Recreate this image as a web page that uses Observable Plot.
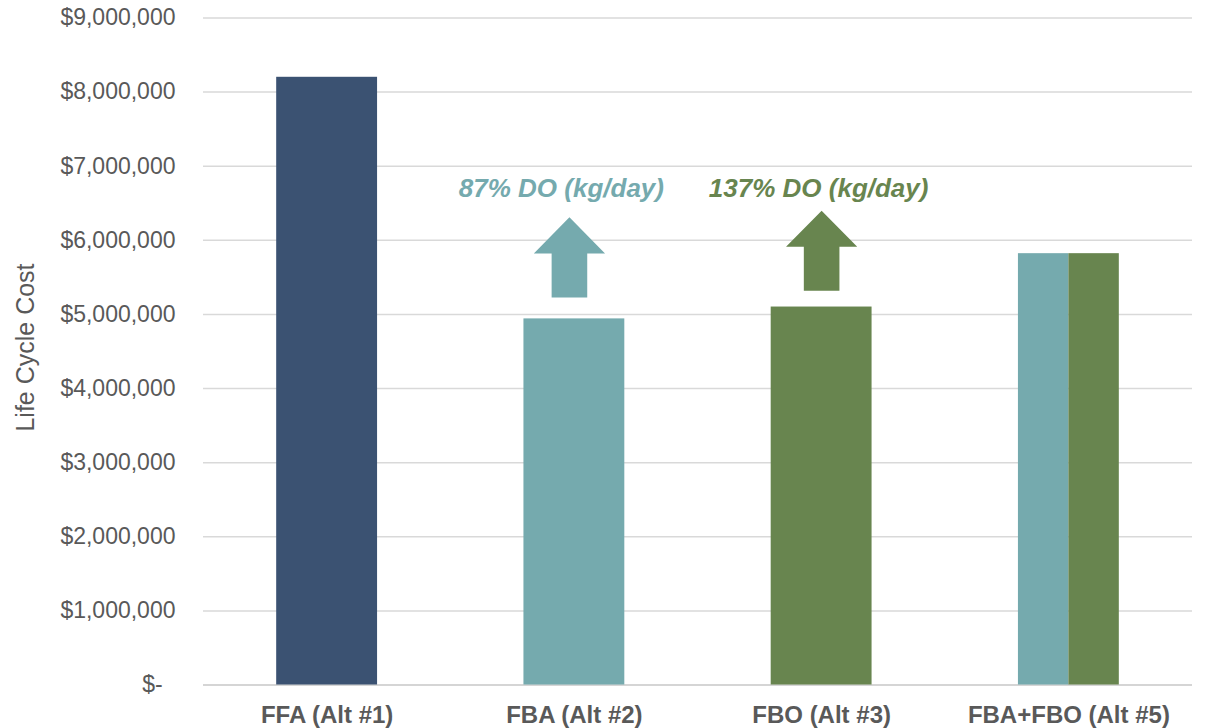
<!DOCTYPE html>
<html>
<head>
<meta charset="utf-8">
<script src="https://cdn.jsdelivr.net/npm/d3@7"></script>
<script src="https://cdn.jsdelivr.net/npm/@observablehq/plot@0.6"></script>
<style>
  html, body { margin: 0; padding: 0; background: #ffffff; }
  #chart svg { display: block; font-family: "Liberation Sans", Arial, sans-serif; }
  g[aria-label="x-axis tick label"] text { font-weight: bold; }
</style>
</head>
<body>
<div id="chart"></div>
<script>
// Life cycle cost per treatment alternative
const categories = ["FFA (Alt #1)", "FBA (Alt #2)", "FBO (Alt #3)", "FBA+FBO (Alt #5)"];
const costs = [8200000, 4940000, 5100000, 5820000];
// the combined alternative is drawn as two equal halves in the colours of its parts
const barColors = [["#3B5272"], ["#75AAAE"], ["#68854F"], ["#75AAAE", "#68854F"]];

// y-axis ticks
const yTicks = [0, 1000000, 2000000, 3000000, 4000000, 5000000, 6000000, 7000000, 8000000, 9000000];

// dissolved-oxygen annotations: arrows above the FBA and FBO bars
const noteCategory = [1, 2];
const noteText = ["87% DO (kg/day)", "137% DO (kg/day)"];
const noteColor = ["#75AAAE", "#68854F"];
const arrowBase = [5230000, 5320000];
const arrowTip = [6310000, 6400000];
const noteLabelY = [6700000, 6700000];

// styling constants (x-index units, pixel nudges, fraction of arrow length)
const barHalf = 0.204;
const shaftHalf = 0.072;
const headHalf = 0.144;
const headFrac = 0.45;
const arrowNudge = [-0.02, 0];   // small horizontal nudge of each arrow, in x-index units
const labelNudge = [-13, -3];    // horizontal nudge of each label, in pixels

// bar segments
const segments = [];
categories.forEach((c, i) => {
  const cols = barColors[i];
  const w = (2 * barHalf) / cols.length;
  cols.forEach((col, k) => {
    segments.push({x1: i - barHalf + k * w, x2: i - barHalf + (k + 1) * w, y: costs[i], color: col});
  });
});

// block-arrow outlines
function arrowOutline(i, base, tip) {
  const neck = tip - headFrac * (tip - base);
  return [
    {x: i - shaftHalf, y: base},
    {x: i + shaftHalf, y: base},
    {x: i + shaftHalf, y: neck},
    {x: i + headHalf, y: neck},
    {x: i, y: tip},
    {x: i - headHalf, y: neck},
    {x: i - shaftHalf, y: neck}
  ];
}
const arrowMarks = noteCategory.map((c, k) =>
  Plot.line(arrowOutline(c + arrowNudge[k], arrowBase[k], arrowTip[k]), {
    x: "x", y: "y", fill: noteColor[k], stroke: "none"
  })
);
const labelMarks = noteCategory.map((c, k) =>
  Plot.text([{x: c, y: noteLabelY[k], text: noteText[k]}], {
    x: "x", y: "y", text: "text", fill: noteColor[k], dx: labelNudge[k],
    fontSize: 26, fontWeight: "bold", fontStyle: "italic",
    textAnchor: "middle", lineAnchor: "middle"
  })
);

const fmt = d3.format("$,.0f");

const chart = Plot.plot({
  width: 1205,
  height: 728,
  marginLeft: 203,
  marginRight: 13,
  marginTop: 17.5,
  marginBottom: 43.5,
  style: {fontFamily: '"Liberation Sans", Arial, sans-serif', background: "#ffffff"},
  x: {domain: [-0.5, categories.length - 0.5], axis: null},
  y: {domain: [0, 9000000], axis: null},
  color: {type: "identity"},
  marks: [
    Plot.gridY(yTicks, {stroke: "#d9d9d9", strokeOpacity: 1, strokeWidth: 1.5}),
    Plot.ruleY([0], {stroke: "#d0d0d0", strokeWidth: 1.5}),
    Plot.rectY(segments, {x1: "x1", x2: "x2", y1: 0, y2: "y", fill: "color"}),
    ...arrowMarks,
    ...labelMarks,
    Plot.axisY({
      ticks: yTicks,
      tickFormat: d => d === 0 ? "$-\u2007" : fmt(d),
      tickSize: 0,
      tickPadding: 28,
      fontSize: 23,
      color: "#595959",
      label: null
    }),
    Plot.axisX({
      ticks: d3.range(categories.length),
      tickFormat: i => categories[i],
      tickSize: 0,
      tickPadding: 20.5,
      fontSize: 24,
      fontWeight: "bold",
      color: "#595959",
      label: null
    }),
    Plot.text(["Life Cycle Cost"], {
      frameAnchor: "left",
      rotate: -90,
      dx: -178,
      dy: -4,
      fontSize: 25,
      fill: "#595959",
      textAnchor: "middle",
      lineAnchor: "middle"
    })
  ]
});

document.getElementById("chart").appendChild(chart);
</script>
</body>
</html>
